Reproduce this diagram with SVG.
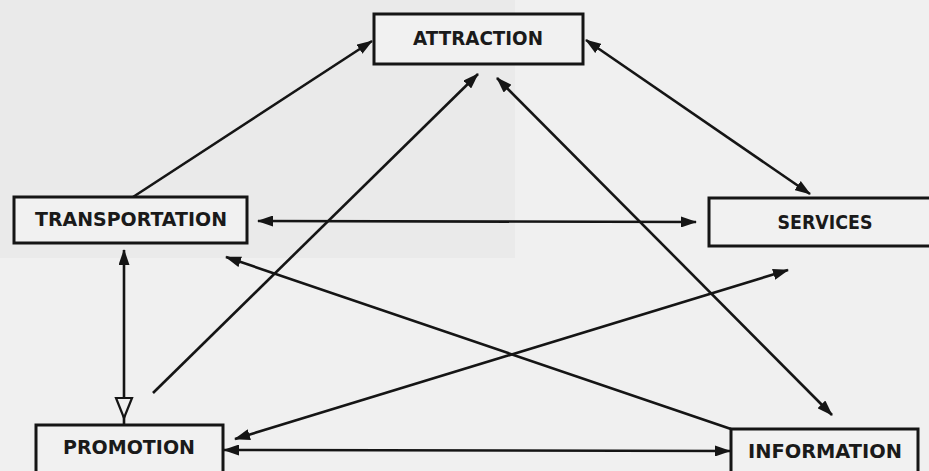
<svg xmlns="http://www.w3.org/2000/svg" width="929" height="471" viewBox="0 0 929 471">
  <style>
    .box { fill: #f1f1f1; stroke: #151515; stroke-width: 3; }
    .lbl { font-family: "DejaVu Sans", "Liberation Sans", sans-serif; font-weight: bold; fill: #1a1a1a; font-size: 19px; }
    .con { stroke: #151515; stroke-width: 2.6; fill: none; }
  </style>
  <defs>
    <marker id="ah" markerUnits="userSpaceOnUse" viewBox="0 0 16 11" markerWidth="16" markerHeight="11" refX="15" refY="5.5" orient="auto-start-reverse">
      <path d="M0,0 L16,5.5 L0,11 z" fill="#151515"/>
    </marker>
  </defs>
  <rect x="0" y="0" width="929" height="471" fill="#f0f0f0"/>
  <rect x="0" y="0" width="515" height="258" fill="#eaeaea"/>

  <g id="connectors">
    <line class="con" x1="133" y1="197" x2="372" y2="41" marker-end="url(#ah)"/>
    <line class="con" x1="153" y1="393" x2="478" y2="74" marker-end="url(#ah)"/>
    <line class="con" x1="497" y1="78" x2="832" y2="415" marker-start="url(#ah)" marker-end="url(#ah)"/>
    <line class="con" x1="586" y1="40" x2="810" y2="194" marker-start="url(#ah)" marker-end="url(#ah)"/>
    <line class="con" x1="258" y1="221" x2="696" y2="222" marker-start="url(#ah)" marker-end="url(#ah)"/>
    <line class="con" x1="731" y1="429" x2="226" y2="257" marker-end="url(#ah)"/>
    <line class="con" x1="235" y1="439" x2="788" y2="270" marker-start="url(#ah)" marker-end="url(#ah)"/>
    <line class="con" x1="224" y1="450" x2="730" y2="451" marker-start="url(#ah)" marker-end="url(#ah)"/>
    <line class="con" x1="124" y1="250" x2="124" y2="425" marker-start="url(#ah)"/>
    <polygon points="116,398 132,398 124,418" fill="#f0f0f0" stroke="#151515" stroke-width="2.2"/>
  </g>

  <g id="attraction">
    <rect class="box" x="374" y="14" width="209" height="50"/>
    <text class="lbl" x="478" y="45" text-anchor="middle" textLength="130" lengthAdjust="spacingAndGlyphs">ATTRACTION</text>
  </g>
  <g id="transportation">
    <rect class="box" x="14" y="197" width="233" height="46"/>
    <text class="lbl" x="131" y="226" text-anchor="middle" textLength="192" lengthAdjust="spacingAndGlyphs">TRANSPORTATION</text>
  </g>
  <g id="services">
    <rect class="box" x="709" y="198" width="230" height="48"/>
    <text class="lbl" x="825" y="229" text-anchor="middle" textLength="95" lengthAdjust="spacingAndGlyphs">SERVICES</text>
  </g>
  <g id="promotion">
    <rect class="box" x="36" y="425" width="187" height="60"/>
    <text class="lbl" x="129" y="454" text-anchor="middle" textLength="132" lengthAdjust="spacingAndGlyphs">PROMOTION</text>
  </g>
  <g id="information">
    <rect class="box" x="731" y="429" width="187" height="60"/>
    <text class="lbl" x="825" y="458" text-anchor="middle" textLength="154" lengthAdjust="spacingAndGlyphs">INFORMATION</text>
  </g>
</svg>
